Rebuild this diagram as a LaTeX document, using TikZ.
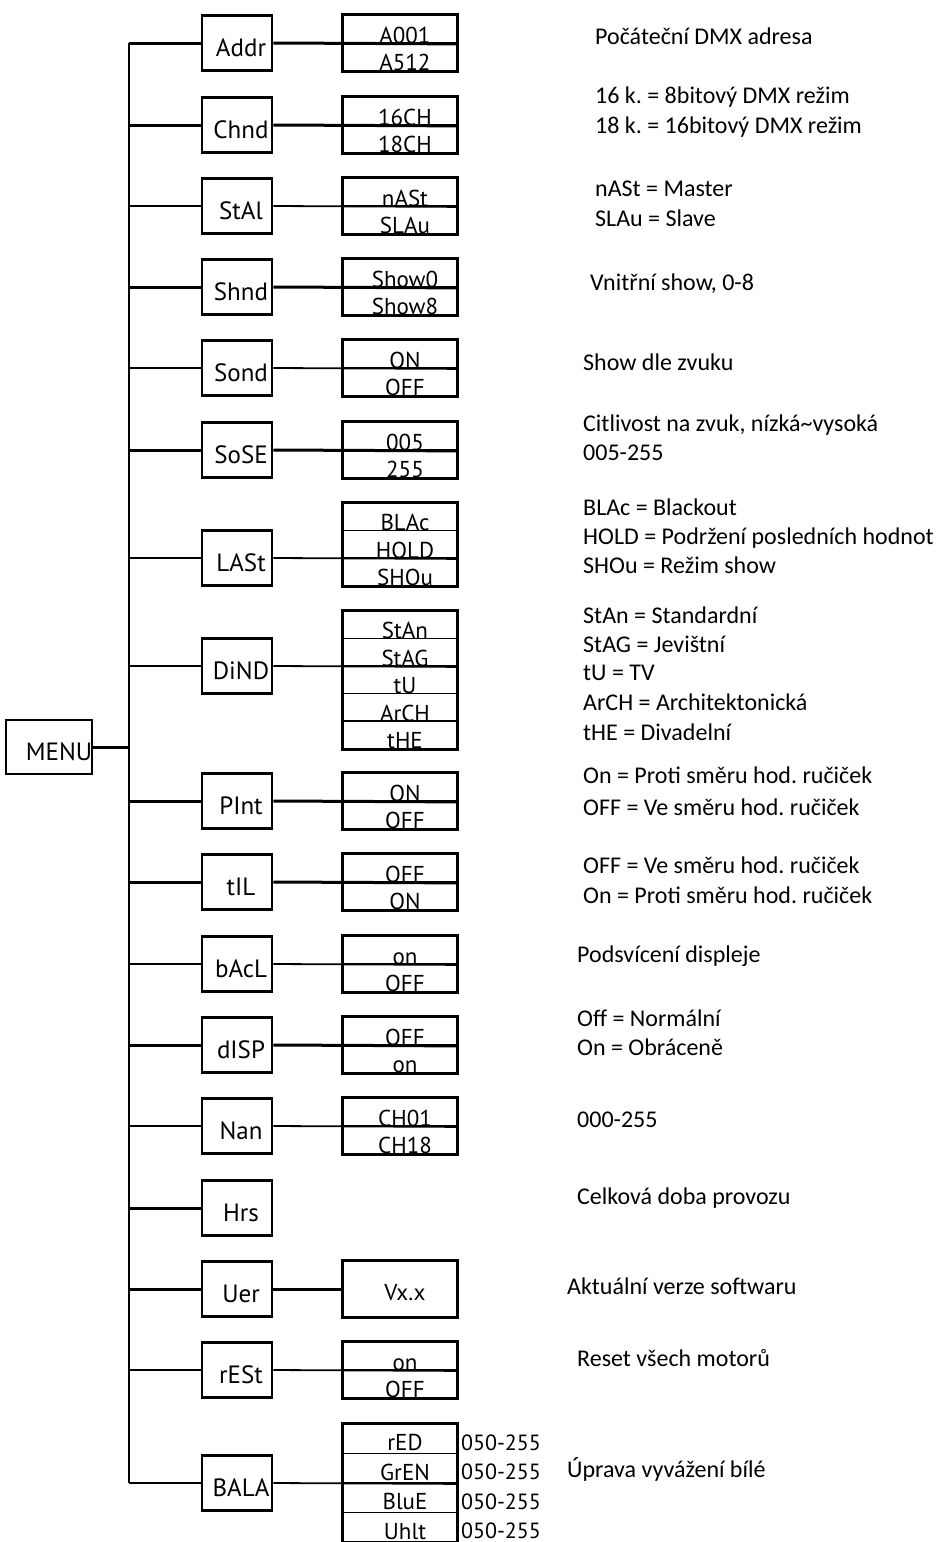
\documentclass[tikz,border=0pt]{standalone}
\usepackage{fontspec}
\setmainfont{Carlito}
\newfontfamily\boxfont{PT Sans}
\frenchspacing

\begin{document}
\begin{tikzpicture}[x=1pt, y=-1pt,
    item/.style={draw, line width=2.8pt, minimum width=70pt, minimum height=55pt, inner sep=0pt,
      font=\boxfont\fontsize{25}{25}\selectfont, text height=27.5pt, text depth=0pt,
      execute at begin node={\hspace*{8pt}}},
    vrow/.style={draw, line width=1.8pt, minimum width=114pt, minimum height=27.5pt, inner sep=0pt,
      font=\boxfont\fontsize{23}{23}\selectfont, text height=27.5pt, text depth=0pt,
      execute at begin node={\hspace*{10pt}}},
    brow/.style={vrow, minimum height=29.5pt, text height=23.5pt},
    vframe/.style={line width=2.8pt},
    thickcon/.style={line width=3pt},
    thincon/.style={line width=1.8pt},
    rng/.style={anchor=west, inner sep=0pt, font=\boxfont\fontsize{22}{22}\selectfont,
      text height=15.4pt, text depth=0pt},
    desc/.style={anchor=west, inner sep=0pt, font=\fontsize{24}{24}\selectfont,
      text height=15.4pt, text depth=0pt}]
  \useasboundingbox (0,0) rectangle (938,1542);

  % menu and main items
  \node[item, minimum width=74pt, minimum height=54pt, line width=2pt,
    execute at begin node={\hspace*{12pt}}] (menu) at (49,747) {MENU};
  \coordinate (trunk) at (129,747);
  \node[item] (addr) at (237,43) {Addr};
  \node[item] (chnd) at (237,125) {Chnd};
  \node[item] (stal) at (237,206) {StAl};
  \node[item] (shnd) at (237,287) {Shnd};
  \node[item] (sond) at (237,368) {Sond};
  \node[item] (sose) at (237,450) {SoSE};
  \node[item] (last) at (237,558) {LASt};
  \node[item] (dind) at (237,666) {DiND};
  \node[item] (pint) at (237,801) {PInt};
  \node[item] (til)  at (237,882) {tIL};
  \node[item] (bacl) at (237,964) {bAcL};
  \node[item] (disp) at (237,1045) {dISP};
  \node[item] (nan)  at (237,1126) {Nan};
  \node[item] (hrs)  at (237,1208) {Hrs};
  \node[item] (uer)  at (237,1289) {Uer};
  \node[item] (rest) at (237,1370) {rESt};
  \node[item] (bala) at (237,1483) {BALA};

  % value boxes
  \node[vrow] (addr-a) at (400,29.25) {A001};
  \node[vrow] (addr-b) at (400,56.75) {A512};
  \node[vrow] (chnd-a) at (400,111.25) {16CH};
  \node[vrow] (chnd-b) at (400,138.75) {18CH};
  \node[vrow] (stal-a) at (400,192.25) {nASt};
  \node[vrow] (stal-b) at (400,219.75) {SLAu};
  \node[vrow] (shnd-a) at (400,273.25) {Show0};
  \node[vrow] (shnd-b) at (400,300.75) {Show8};
  \node[vrow] (sond-a) at (400,354.25) {ON};
  \node[vrow] (sond-b) at (400,381.75) {OFF};
  \node[vrow] (sose-a) at (400,436.25) {005};
  \node[vrow] (sose-b) at (400,463.75) {255};
  \node[vrow] (last-a) at (400,516.75) {BLAc};
  \node[vrow] (last-b) at (400,544.25) {HOLD};
  \node[vrow] (last-c) at (400,571.75) {SHOu};
  \node[vrow] (dind-a) at (400,624.75) {StAn};
  \node[vrow] (dind-b) at (400,652.25) {StAG};
  \node[vrow] (dind-c) at (400,679.75) {tU};
  \node[vrow] (dind-d) at (400,707.25) {ArCH};
  \node[vrow] (dind-e) at (400,734.75) {tHE};
  \node[vrow] (pint-a) at (400,787.25) {ON};
  \node[vrow] (pint-b) at (400,814.75) {OFF};
  \node[vrow] (til-a)  at (400,868.25) {OFF};
  \node[vrow] (til-b)  at (400,895.75) {ON};
  \node[vrow] (bacl-a) at (400,950.25) {on};
  \node[vrow] (bacl-b) at (400,977.75) {OFF};
  \node[vrow] (disp-a) at (400,1031.25) {OFF};
  \node[vrow] (disp-b) at (400,1058.75) {on};
  \node[vrow] (nan-a)  at (400,1112.25) {CH01};
  \node[vrow] (nan-b)  at (400,1139.75) {CH18};
  \node[vrow, minimum height=55pt, text height=22pt] (uer-a) at (400,1289) {Vx.x};
  \node[vrow] (rest-a) at (400,1356.25) {on};
  \node[vrow] (rest-b) at (400,1383.75) {OFF};
  \node[brow] (bala-a) at (400,1438.75) {rED};
  \node[brow] (bala-b) at (400,1468.25) {GrEN};
  \node[brow] (bala-c) at (400,1497.75) {BluE};
  \node[brow] (bala-d) at (400,1527.25) {Uhlt};

  \draw[vframe] (addr-a.north west) rectangle (addr-b.south east);
  \draw[vframe] (chnd-a.north west) rectangle (chnd-b.south east);
  \draw[vframe] (stal-a.north west) rectangle (stal-b.south east);
  \draw[vframe] (shnd-a.north west) rectangle (shnd-b.south east);
  \draw[vframe] (sond-a.north west) rectangle (sond-b.south east);
  \draw[vframe] (sose-a.north west) rectangle (sose-b.south east);
  \draw[vframe] (last-a.north west) rectangle (last-c.south east);
  \draw[vframe] (dind-a.north west) rectangle (dind-e.south east);
  \draw[vframe] (pint-a.north west) rectangle (pint-b.south east);
  \draw[vframe] (til-a.north west) rectangle (til-b.south east);
  \draw[vframe] (bacl-a.north west) rectangle (bacl-b.south east);
  \draw[vframe] (disp-a.north west) rectangle (disp-b.south east);
  \draw[vframe] (nan-a.north west) rectangle (nan-b.south east);
  \draw[vframe] (uer-a.north west) rectangle (uer-a.south east);
  \draw[vframe] (rest-a.north west) rectangle (rest-b.south east);
  \draw[vframe] (bala-a.north west) rectangle (bala-d.south east);

  \node[rng] (bala-a-r) at ([xshift=3pt,yshift=-4pt]bala-a.east) {050-255};
  \node[rng] (bala-b-r) at ([xshift=3pt,yshift=-4pt]bala-b.east) {050-255};
  \node[rng] (bala-c-r) at ([xshift=3pt,yshift=-4pt]bala-c.east) {050-255};
  \node[rng] (bala-d-r) at ([xshift=3pt,yshift=-4pt]bala-d.east) {050-255};

  % tree lines
  \draw[thincon] (addr.west -| trunk) -- (bala.west -| trunk);
  \draw[thickcon] (menu.east) -- (trunk);
  \draw[thickcon] (addr.west -| trunk) -- (addr.west);
  \draw[thickcon] (addr.east) -- (addr-a.south east);
  \draw[thickcon] (chnd.west -| trunk) -- (chnd.west);
  \draw[thickcon] (chnd.east) -- (chnd-a.south east);
  \draw[thincon] (stal.west -| trunk) -- (stal.west);
  \draw[thincon] (stal.east) -- (stal-a.south east);
  \draw[thickcon] (shnd.west -| trunk) -- (shnd.west);
  \draw[thickcon] (shnd.east) -- (shnd-a.south east);
  \draw[thincon] (sond.west -| trunk) -- (sond.west);
  \draw[thincon] (sond.east) -- (sond-a.south east);
  \draw[thickcon] (sose.west -| trunk) -- (sose.west);
  \draw[thickcon] (sose.east) -- (sose-a.south east);
  \draw[thincon] (last.west -| trunk) -- (last.west);
  \draw[thincon] (last.east) -- (last-b.south east);
  \draw[thincon] (dind.west -| trunk) -- (dind.west);
  \draw[thincon] (dind.east) -- (dind-b.south east);
  \draw[thickcon] (pint.west -| trunk) -- (pint.west);
  \draw[thickcon] (pint.east) -- (pint-a.south east);
  \draw[thickcon] (til.west -| trunk) -- (til.west);
  \draw[thickcon] (til.east) -- (til-a.south east);
  \draw[thincon] (bacl.west -| trunk) -- (bacl.west);
  \draw[thincon] (bacl.east) -- (bacl-a.south east);
  \draw[thickcon] (disp.west -| trunk) -- (disp.west);
  \draw[thickcon] (disp.east) -- (disp-a.south east);
  \draw[thincon] (nan.west -| trunk) -- (nan.west);
  \draw[thincon] (nan.east) -- (nan-a.south east);
  \draw[thickcon] (hrs.west -| trunk) -- (hrs.west);
  \draw[thickcon] (uer.west -| trunk) -- (uer.west);
  \draw[thickcon] (uer.east) -- (uer-a.west);
  \draw[thincon] (rest.west -| trunk) -- (rest.west);
  \draw[thincon] (rest.east) -- (rest-a.south east);
  \draw[thincon] (bala.west -| trunk) -- (bala.west);
  \draw[thincon] (bala.east) -- (bala-b.south east);

  % descriptions
  \node[desc] (d-addr)   at (595,37)   {Počáteční DMX adresa};
  \node[desc] (d-chnd-a) at (595,96)   {16 k. = 8bitový DMX režim};
  \node[desc] (d-chnd-b) at (595,126)  {18 k. = 16bitový DMX režim};
  \node[desc] (d-stal-a) at (595,189)  {nASt = Master};
  \node[desc] (d-stal-b) at (595,219)  {SLAu = Slave};
  \node[desc] (d-shnd)   at (590,283)  {Vnitřní show, 0-8};
  \node[desc] (d-sond)   at (583,363)  {Show dle zvuku};
  \node[desc] (d-sose-a) at (583,424)  {Citlivost na zvuk, nízká\textasciitilde vysoká};
  \node[desc] (d-sose-b) at (583,453)  {005-255};
  \node[desc] (d-last-a) at (583,508)  {BLAc = Blackout};
  \node[desc] (d-last-b) at (583,537)  {HOLD = Podržení posledních hodnot};
  \node[desc] (d-last-c) at (583,566)  {SHOu = Režim show};
  \node[desc] (d-dind-a) at (583,616)  {StAn = Standardní};
  \node[desc] (d-dind-b) at (583,645)  {StAG = Jevištní};
  \node[desc] (d-dind-c) at (583,673)  {tU = TV};
  \node[desc] (d-dind-d) at (583,703)  {ArCH = Architektonická};
  \node[desc] (d-dind-e) at (583,733)  {tHE = Divadelní};
  \node[desc] (d-pint-a) at (583,776)  {On = Proti směru hod. ručiček};
  \node[desc] (d-pint-b) at (583,808)  {OFF = Ve směru hod. ručiček};
  \node[desc] (d-til-a)  at (583,866)  {OFF = Ve směru hod. ručiček};
  \node[desc] (d-til-b)  at (583,896)  {On = Proti směru hod. ručiček};
  \node[desc] (d-bacl)   at (577,955)  {Podsvícení displeje};
  \node[desc] (d-disp-a) at (577,1019) {Off = Normální};
  \node[desc] (d-disp-b) at (577,1048) {On = Obráceně};
  \node[desc] (d-nan)    at (577,1120) {000-255};
  \node[desc] (d-hrs)    at (577,1197) {Celková doba provozu};
  \node[desc] (d-uer)    at (567,1287) {Aktuální verze softwaru};
  \node[desc] (d-rest)   at (577,1359) {Reset všech motorů};
  \node[desc] (d-bala)   at (567,1470) {Úprava vyvážení bílé};
\end{tikzpicture}
\end{document}
